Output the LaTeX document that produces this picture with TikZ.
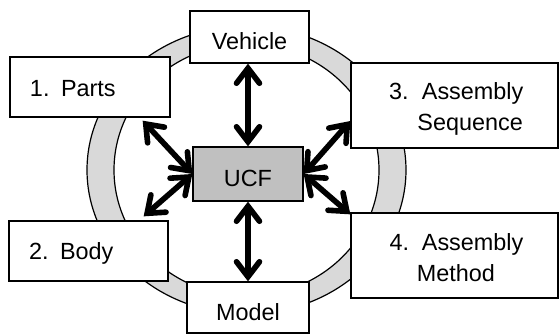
\documentclass[tikz,border=0pt]{standalone}
\usepackage{fontspec}
\setmainfont{Liberation Sans}
\usetikzlibrary{arrows.meta}
\definecolor{ringgray}{HTML}{D9D9D9}
\definecolor{ucfgray}{HTML}{C0C0C0}
\begin{document}
\begin{tikzpicture}[x=1pt,y=-1pt,
  font=\fontsize{23.4}{27}\selectfont,
  box/.style={draw, fill=white, line width=1.3pt, inner sep=0pt},
  lab/.style={anchor=base west, inner sep=0pt},
  dbl/.style={line width=5.6pt, {Straight Barb[length=15pt,width=23pt,line cap=round,line join=miter]}-{Straight Barb[length=15pt,width=23pt,line cap=round,line join=miter]}}
]
\useasboundingbox (0,0) rectangle (560,335);
% ring
\fill[ringgray, even odd rule] (246.5,170) ellipse [x radius=159.5, y radius=144]
  (246.5,170) ellipse [x radius=132.5, y radius=126];
\draw[line width=1.2pt] (246.5,170) ellipse [x radius=159.5, y radius=144];
\draw[line width=1.2pt] (246.5,170) ellipse [x radius=132.5, y radius=126];
% boxes
\node[box, minimum width=119pt, minimum height=52pt, text height=24pt, text depth=0pt] (veh) at (249.5,37) {Vehicle};
\node[box, minimum width=160pt, minimum height=60pt, text height=19pt, text depth=0pt, text width=120pt, inner xsep=20pt, align=left] (parts) at (90,87) {1.\hspace{11.5pt}Parts};
\node[box, minimum width=159pt, minimum height=60pt, text height=17pt, text depth=0pt, text width=119pt, inner xsep=20pt, align=left] (body) at (88.5,251) {2.\hspace{11.5pt}Body};
\node[box, minimum width=122pt, minimum height=51pt, text height=25pt, text depth=0pt] (model) at (248,307.5) {Model};
\node[box, minimum width=207pt, minimum height=85pt] (seq) at (454.5,105.5) {};
\node[box, minimum width=207pt, minimum height=85pt] (meth) at (454.5,255.5) {};
\node[box, fill=ucfgray, minimum width=110pt, minimum height=54pt, text height=24pt, text depth=0pt] (ucf) at (248,174) {UCF};
% multi-line labels
\node[lab] (s1) at (389,99.5) {3.};
\node[lab] (s2) at (421.7,99.5) {Assembly};
\node[lab] (s3) at (417.2,130.2) {Sequence};
\node[lab] (m1) at (389.3,250) {4.};
\node[lab] (m2) at (421.7,250) {Assembly};
\node[lab] (m3) at (416.6,281.7) {Method};
% arrows
\draw[dbl] (ucf.north |- veh.south) -- (ucf.north);
\draw[dbl] (ucf.south) -- (ucf.south |- model.north);
\draw[dbl] ([xshift=-28pt,yshift=-3pt]parts.south east) -- (ucf.west);
\draw[dbl] ([xshift=-25pt,yshift=4pt]body.north east) -- (ucf.west);
\draw[dbl] ([yshift=-15.5pt]seq.west) -- (ucf.east);
\draw[dbl] ([yshift=-2pt]meth.north west) -- (ucf.east);
\end{tikzpicture}
\end{document}
